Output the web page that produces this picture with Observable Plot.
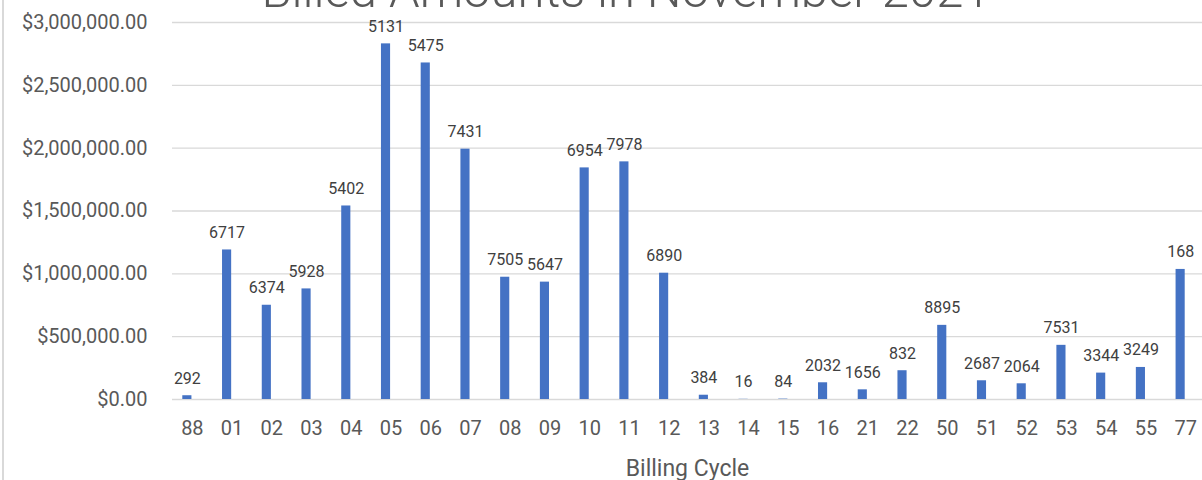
<!DOCTYPE html>
<html>
<head>
<meta charset="utf-8">
<script src="https://cdn.jsdelivr.net/npm/d3@7"></script>
<script src="https://cdn.jsdelivr.net/npm/@observablehq/plot@0.6"></script>
<style>
  html, body { margin: 0; padding: 0; background: #fff; overflow: hidden; }
  #wrap { position: relative; width: 1202px; height: 480px; overflow: hidden; }
  #title { position: absolute; left: 0; width: 1252px; top: -34px; text-align: center;
    font-family: Roboto, sans-serif; font-weight: 300; font-size: 49px; line-height: 49px; color: #595959; white-space: nowrap; }
  #border { position: absolute; left: 2px; top: 0; width: 1.5px; height: 480px; background: #d9d9d9; }
  #chart { position: absolute; left: 0; top: 0; }
</style>
</head>
<body>
<div id="wrap">
  <div id="chart"></div>
  <div id="border"></div>
  <div id="title">Billed Amounts in November 2021</div>
</div>
<script>
const cycles = ["88","01","02","03","04","05","06","07","08","09","10","11","12","13","14","15","16","21","22","50","51","52","53","54","55","77"];
const amounts = [30000,1190000,750000,880000,1540000,2830000,2678000,1992000,973000,934000,1843000,1891000,1005000,34000,1500,3000,133000,77000,229000,590000,149000,125000,431000,210000,255000,1035000];
const counts = [292,6717,6374,5928,5402,5131,5475,7431,7505,5647,6954,7978,6890,384,16,84,2032,1656,832,8895,2687,2064,7531,3344,3249,168];
const yTicks = [0,500000,1000000,1500000,2000000,2500000,3000000];

const data = cycles.map((c, i) => ({cycle: c, amount: amounts[i], count: counts[i]}));

const chart = Plot.plot({
  width: 1202,
  height: 480,
  marginLeft: 172,
  marginRight: 0,
  marginTop: 22,
  marginBottom: 81,
  style: {fontFamily: "Roboto, sans-serif", background: "transparent"},
  x: {type: "band", domain: cycles, padding: 0, round: false, range: [172, 1205]},
  y: {domain: [0, 3000000]},
  marks: [
    Plot.gridY(yTicks, {stroke: "#d9d9d9", strokeOpacity: 1, strokeWidth: 1.4}),
    Plot.barY(data, {x: "cycle", y: "amount", fill: "#4472C4", insetLeft: 15.3, insetRight: 15.3, dx: -5}),
    Plot.text(data, {x: "cycle", y: "amount", text: d => String(d.count), dx: -5, dy: -12, lineAnchor: "bottom", fontSize: 16, fill: "#404040"}),
    Plot.axisY({ticks: yTicks, tickFormat: d3.format("$,.2f"), tickSize: 0, tickPadding: 25, fontSize: 20, fill: "#595959", label: null}),
    Plot.axisX({tickSize: 0, tickPadding: 21, fontSize: 20, fill: "#595959", label: null}),
    Plot.text(["Billing Cycle"], {frameAnchor: "bottom", lineAnchor: "bottom", dy: 76, fontSize: 23, fill: "#595959"})
  ]
});
document.getElementById("chart").appendChild(chart);
</script>
</body>
</html>
